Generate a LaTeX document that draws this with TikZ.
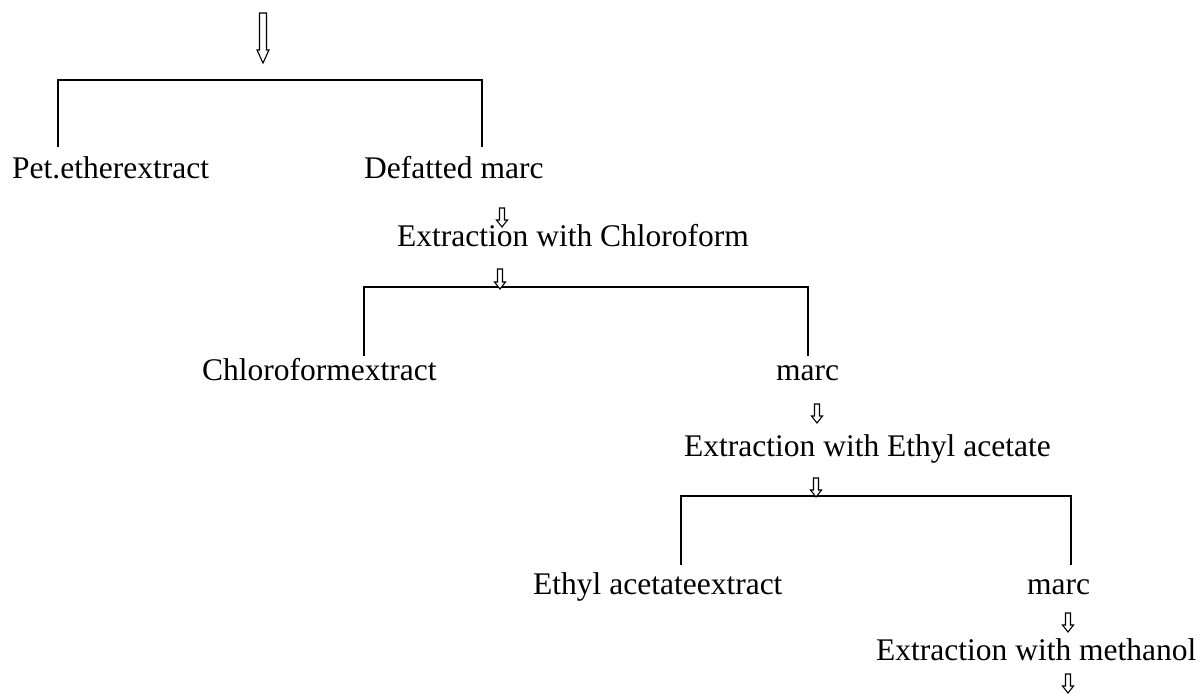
\documentclass[tikz,border=0pt]{standalone}
\usepackage{fontspec}
\setmainfont{Liberation Serif}
\begin{document}
\begin{tikzpicture}[x=1pt,y=-1pt,
  lbl/.style={inner sep=0pt,anchor=base west,font=\fontsize{31.5}{36}\selectfont},
  bracket/.style={line width=2pt},
  hollow/.style={draw=black,line width=1.1pt,fill=white,line join=miter}]
\useasboundingbox (0,0) rectangle (1204,693);
% hollow arrow: #1 x, #2 top y, #3 tip y, #4 shaft half width, #5 head half width, #6 head length
\newcommand{\hollowarr}[6]{%
  \draw[hollow] (#1-#4,#2) -- (#1+#4,#2) -- (#1+#4,#3-#6) -- (#1+#5,#3-#6) -- (#1,#3) -- (#1-#5,#3-#6) -- (#1-#4,#3-#6) -- cycle;}
% texts
\node[lbl] (pet)   at (12,178)  {Pet.etherextract};
\node[lbl] (defat) at (364,178) {Defatted marc};
\node[lbl] (ext1)  at (397,246) {Extraction with Chloroform};
\node[lbl] (chl)   at (202,380) {Chloroformextract};
\node[lbl] (marc1) at (776,380) {marc};
\node[lbl] (ext2)  at (684,456) {Extraction with Ethyl acetate};
\node[lbl] (eth)   at (533,594) {Ethyl acetateextract};
\node[lbl] (marc2) at (1027,594) {marc};
\node[lbl] (ext3)  at (876,660) {Extraction with methanol};
% brackets
\coordinate (b1L) at (58,147);  \coordinate (b1R) at (482,147);
\coordinate (b2L) at (364,356); \coordinate (b2R) at (808,356);
\coordinate (b3L) at (681,565); \coordinate (b3R) at (1071,565);
\draw[bracket] (b1L) -- ++(0,-67) -| (b1R);
\draw[bracket] (b2L) -- ++(0,-69) -| (b2R);
\draw[bracket] (b3L) -- ++(0,-69) -| (b3R);
% arrows
\hollowarr{263}{13}{63}{3.5}{6}{13}
\hollowarr{502}{208}{227}{2.5}{5.5}{7}
\hollowarr{500}{269}{289}{2.5}{5.5}{7}
\hollowarr{817}{404}{423}{2.5}{5.5}{7}
\hollowarr{816}{478}{497}{2.5}{5.5}{7}
\hollowarr{1068}{613}{632}{2.5}{5.5}{7}
\hollowarr{1068}{674}{693}{2.5}{5.5}{7}
\end{tikzpicture}
\end{document}
